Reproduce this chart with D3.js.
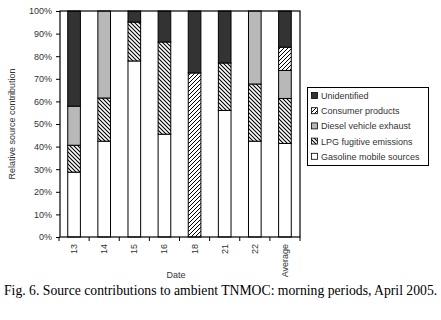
<!DOCTYPE html>
<html><head><meta charset="utf-8">
<script src="https://cdn.jsdelivr.net/npm/d3@7"></script>
<style>body{margin:0;background:#fff}svg{display:block}</style>
</head><body>
<svg id="c" width="441" height="320"></svg>
<script>
const categories = ["13","14","15","16","18","21","22","Average"];
const gasoline     = [28.7, 42.4, 77.9, 45.5, 0,    56.0, 42.4, 41.4];
const lpg          = [11.9, 19.1, 17.2, 40.8, 0,    21.0, 25.3, 19.9];
const diesel       = [17.3, 38.5, 0,    0,    0,    0,    32.3, 12.4];
const consumer     = [0,    0,    0,    0,    72.6, 0,    0,    10.3];
const unidentified = [42.1, 0,    4.9,  13.7, 27.4, 23.0, 0,    16.0];
const yTicks = [0,10,20,30,40,50,60,70,80,90,100];
const seriesKeys = ["gasoline","lpg","diesel","consumer","unidentified"];
const legendLabels = {unidentified:"Unidentified", consumer:"Consumer products", diesel:"Diesel vehicle exhaust", lpg:"LPG fugitive emissions", gasoline:"Gasoline mobile sources"};

const rows = categories.map((c,i)=>({cat:c, gasoline:gasoline[i], lpg:lpg[i], diesel:diesel[i], consumer:consumer[i], unidentified:unidentified[i]}));
const svg = d3.select("#c");
const L=60, R=300, T=11, B=237;
const x = d3.scaleBand().domain(categories).range([L-1,R]).paddingInner(0.58).paddingOuter(0.29);
const xb = d3.scaleBand().domain(categories).range([L-1,R]);
const y = d3.scaleLinear().domain([0,100]).range([B,T]);

const defs = svg.append("defs");
const pb = defs.append("pattern").attr("id","pBack").attr("patternUnits","userSpaceOnUse").attr("width",4).attr("height",4);
pb.append("rect").attr("width",4).attr("height",4).attr("fill","#fff");
pb.append("path").attr("d","M0,0L4,4M-1,3L1,5M3,-1L5,1").attr("stroke","#000").attr("stroke-width",1.1);
const pf = defs.append("pattern").attr("id","pFwd").attr("patternUnits","userSpaceOnUse").attr("width",4).attr("height",4);
pf.append("rect").attr("width",4).attr("height",4).attr("fill","#fff");
pf.append("path").attr("d","M0,4L4,0M-1,1L1,-1M3,5L5,3").attr("stroke","#000").attr("stroke-width",1);
const fills = {gasoline:"#fff", lpg:"url(#pBack)", diesel:"#b8b8b8", consumer:"url(#pFwd)", unidentified:"#333"};

const stack = d3.stack().keys(seriesKeys)(rows);
svg.append("g").selectAll("g").data(stack).join("g").attr("fill",d=>fills[d.key])
  .selectAll("rect").data(d=>d.filter(s=>s[1]-s[0]>0)).join("rect")
  .attr("x",d=>x(d.data.cat)).attr("width",x.bandwidth())
  .attr("y",d=>y(d[1])).attr("height",d=>y(d[0])-y(d[1]))
  .attr("stroke","#000").attr("stroke-width",1);

// frame
svg.append("rect").attr("x",L).attr("y",T).attr("width",R-L).attr("height",B-T).attr("fill","none").attr("stroke","#000").attr("stroke-width",1.2);

// y axis
const ya = svg.append("g").attr("transform",`translate(${L},0)`).call(d3.axisLeft(y).tickValues(yTicks).tickFormat(d=>d+"%").tickSize(4).tickPadding(4));
ya.select(".domain").remove();
ya.selectAll("line").attr("stroke","#000");
ya.selectAll("text").attr("font-family","Liberation Sans, Arial, sans-serif").attr("font-size",9).attr("fill","#333");

// x axis ticks at band boundaries
const bounds = categories.map(c=>xb(c)).concat([R]);
svg.append("g").selectAll("line").data(bounds).join("line")
  .attr("x1",d=>d).attr("x2",d=>d).attr("y1",B).attr("y2",B+4).attr("stroke","#000");
svg.append("g").selectAll("text").data(categories).join("text")
  .attr("transform",d=>`translate(${xb(d)+xb.bandwidth()/2+3},${B+7}) rotate(-90)`)
  .attr("text-anchor","end").attr("font-family","Liberation Sans, Arial, sans-serif").attr("font-size",9).attr("fill","#333").text(d=>d);

svg.append("text").attr("x",176).attr("y",278).attr("text-anchor","middle").attr("font-family","Liberation Sans, Arial, sans-serif").attr("font-size",9).attr("fill","#333").text("Date");
svg.append("text").attr("transform","translate(15,124) rotate(-90)").attr("text-anchor","middle").attr("font-family","Liberation Sans, Arial, sans-serif").attr("font-size",9).attr("fill","#333").text("Relative source contribution");

// legend
const lg = svg.append("g");
lg.append("rect").attr("x",307.5).attr("y",87.5).attr("width",121).attr("height",78).attr("fill","#fff").attr("stroke","#000");
const legOrder = ["unidentified","consumer","diesel","lpg","gasoline"];
legOrder.forEach((k,i)=>{
  const yy = 96 + i*15.2;
  lg.append("rect").attr("x",311.5).attr("y",yy-3.5).attr("width",6).attr("height",6).attr("fill",fills[k]).attr("stroke","#000").attr("stroke-width",0.8);
  lg.append("text").attr("x",321).attr("y",yy+3).attr("font-family","Liberation Sans, Arial, sans-serif").attr("font-size",9).attr("fill","#333").text(legendLabels[k]);
});

svg.append("text").attr("x",4).attr("y",295).attr("font-family","Liberation Serif, Times New Roman, serif").attr("font-size",13.7).attr("fill","#000").text("Fig. 6. Source contributions to ambient TNMOC: morning periods, April 2005.");
</script>
</body></html>
